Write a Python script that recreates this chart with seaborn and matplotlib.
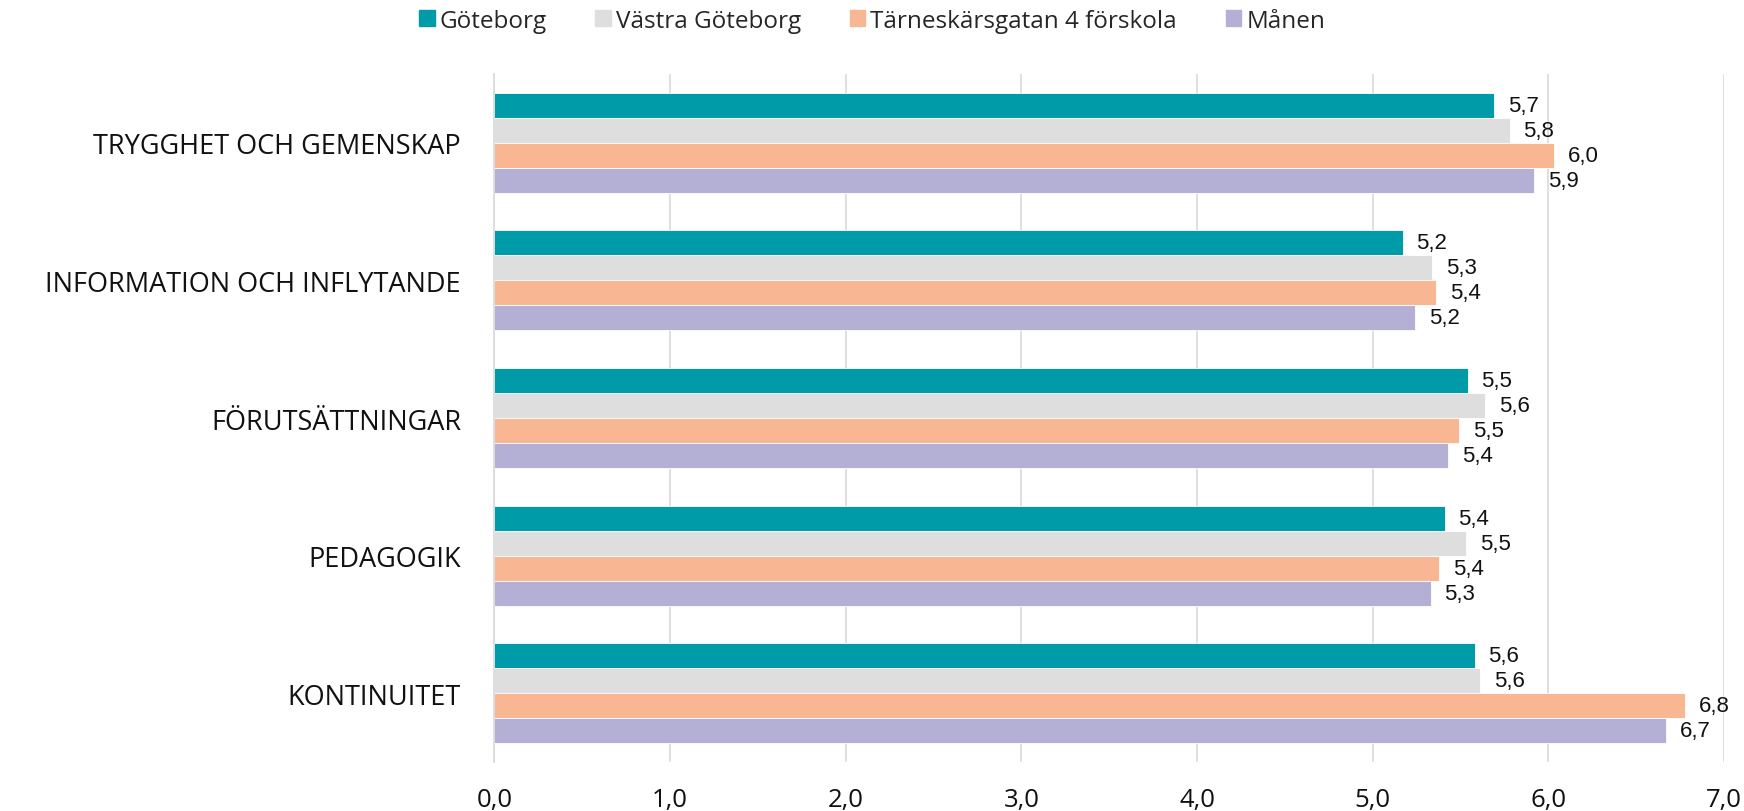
import matplotlib
matplotlib.use("Agg")
import matplotlib.pyplot as plt
import seaborn as sns
import pandas as pd
import numpy as np

categories = ["TRYGGHET OCH GEMENSKAP", "INFORMATION OCH INFLYTANDE",
              "FÖRUTSÄTTNINGAR", "PEDAGOGIK", "KONTINUITET"]
series_names = ["Göteborg", "Västra Göteborg", "Tärneskärsgatan 4 förskola", "Månen"]
goteborg = [5.69, 5.17, 5.54, 5.41, 5.58]
vastra = [5.78, 5.34, 5.64, 5.53, 5.61]
tarnesk = [6.03, 5.36, 5.49, 5.38, 6.78]
manen = [5.92, 5.24, 5.43, 5.33, 6.67]
colors = ["#009BA9", "#DEDEDE", "#F8B692", "#B4AFD4"]
xticks = [0, 1, 2, 3, 4, 5, 6, 7]

rows = []
for name, vals in zip(series_names, [goteborg, vastra, tarnesk, manen]):
    for c, v in zip(categories, vals):
        rows.append({"kategori": c, "serie": name, "värde": v})
df = pd.DataFrame(rows)

sns.set_style("white")
plt.rcParams["font.family"] = ["Open Sans", "DejaVu Sans"]

fig = plt.figure(figsize=(17.44, 8.12), dpi=100)
ax = fig.add_axes([0.2835, 0.0603, 0.705, 0.8473])

sns.barplot(data=df, y="kategori", x="värde", hue="serie", orient="h",
            order=categories, hue_order=series_names, palette=colors,
            width=0.727, ax=ax, legend=False, saturation=1,
            edgecolor="white", linewidth=0.6)

for cont in ax.containers:
    vals = [r.get_width() for r in cont]
    ax.bar_label(cont, labels=[f"{v:.1f}".replace(".", ",") for v in vals],
                 padding=10, fontsize=16, family="Liberation Sans", color="#111111")

ax.set_xlim(0, 7)
ax.set_ylim(len(categories) - 0.5, -0.5)
ax.set_xticks(xticks)
ax.set_xticklabels([f"{t:.1f}".replace(".", ",") for t in xticks], fontsize=18.5, color="#111111")
ax.tick_params(axis="x", length=0, pad=18)
ax.grid(axis="x", color="#D9D9D9", linewidth=1.2)
ax.set_axisbelow(True)
ax.set_xlabel("")
ax.set_ylabel("")

ax.set_yticks(range(len(categories)))
ax.set_yticklabels(categories, fontsize=19.5, color="#111111")
ax.tick_params(axis="y", which="major", length=0, pad=24)
ax.set_yticks(np.arange(-0.5, len(categories), 1.0), minor=True)
ax.tick_params(axis="y", which="minor", length=9, color="#D9D9D9", width=1.2)

for s in ["top", "right", "bottom"]:
    ax.spines[s].set_visible(False)
ax.spines["left"].set_color("#D9D9D9")
ax.spines["left"].set_linewidth(1.2)

handles = [plt.Rectangle((0, 0), 1, 1, color=c) for c in colors]
fig.legend(handles, series_names, loc="center", bbox_to_anchor=(0.5, 0.973),
           ncol=4, frameon=False, prop={"family": "Open Sans", "size": 17.5},
           handlelength=0.65, handleheight=0.65, handletextpad=0.2, columnspacing=2.0)

fig.savefig("out.png", dpi=100)
